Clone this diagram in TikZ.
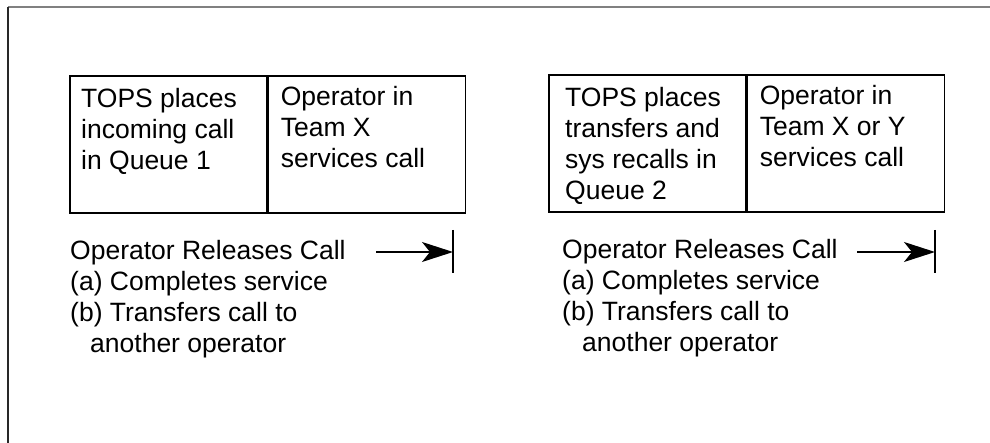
\documentclass[tikz,border=0pt]{standalone}
\usepackage{fontspec}
\setmainfont{Liberation Sans}
\usetikzlibrary{arrows.meta,positioning}
\definecolor{framegray}{RGB}{128,128,128}
\definecolor{frameleft}{RGB}{40,40,40}

\tikzset{
  cell/.style={draw,line width=1.6pt,minimum width=197pt,minimum height=137pt,inner sep=0pt},
  celltext/.style={anchor=north west,inner sep=0pt,align=left,font=\fontsize{26.5}{31}\selectfont},
  release/.style={->,line width=1.6pt,>={Stealth[length=31pt,width=20pt,inset=8pt]}},
  stopbar/.style={line width=1.6pt}
}

\begin{document}
\begin{tikzpicture}[x=1pt,y=-1pt]
\useasboundingbox (0,0) rectangle (990,443);
% frame
\draw[framegray,line width=1.4pt] (8,7) -- (990,7);
\draw[frameleft,line width=1.4pt] (8,7) -- (8,443);
% queue 1
\node[cell,anchor=north west] (q1) at (69,75) {};
\node[cell,anchor=north west] (op1) at (q1.north east) {};
\node[celltext] (q1t) at ([xshift=12pt,yshift=-13pt]q1.north west) {TOPS places\\incoming call\\in Queue 1};
\node[celltext] (op1t) at ([xshift=13pt,yshift=-11pt]op1.north west) {Operator in\\Team X\\services call};
\node[celltext] (rel1) at ([xshift=1pt,yshift=-26pt]q1.south west) {Operator Releases Call\\(a) Completes service\\(b) Transfers call to\\\hspace*{20pt}another operator};
\coordinate (go1) at (376,252);
\coordinate (stop1) at (453,252);
\draw[stopbar] ([yshift=22pt]stop1) -- ([yshift=-21pt]stop1);
\draw[release] (go1) -- (stop1);
% queue 2
\node[cell,anchor=north west] (q2) at (548,74) {};
\node[cell,anchor=north west] (op2) at (q2.north east) {};
\node[celltext] (q2t) at ([xshift=17pt,yshift=-13pt]q2.north west) {TOPS places\\transfers and\\sys recalls in\\Queue 2};
\node[celltext] (op2t) at ([xshift=13pt,yshift=-11pt]op2.north west) {Operator in\\Team X or Y\\services call};
\node[celltext] (rel2) at ([xshift=14pt,yshift=-26pt]q2.south west) {Operator Releases Call\\(a) Completes service\\(b) Transfers call to\\\hspace*{20pt}another operator};
\coordinate (go2) at (857,252);
\coordinate (stop2) at (935,252);
\draw[stopbar] ([yshift=22pt]stop2) -- ([yshift=-21pt]stop2);
\draw[release] (go2) -- (stop2);
\end{tikzpicture}
\end{document}
